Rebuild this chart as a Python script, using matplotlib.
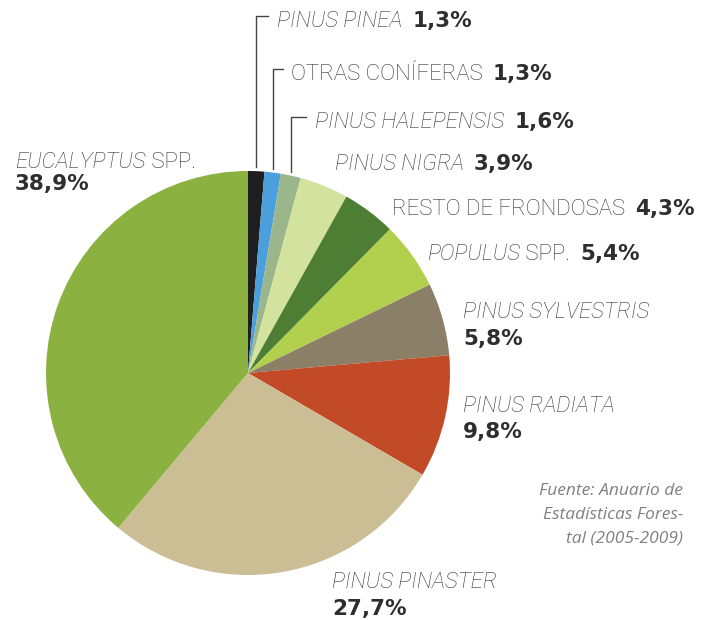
import matplotlib.pyplot as plt
import numpy as np

# data (percent of forest plantations by species)
names = ['PINUS PINEA', 'OTRAS CONÍFERAS', 'PINUS HALEPENSIS', 'PINUS NIGRA',
         'RESTO DE FRONDOSAS', 'POPULUS SPP.', 'PINUS SYLVESTRIS', 'PINUS RADIATA',
         'PINUS PINASTER', 'EUCALYPTUS SPP.']
values = [1.3, 1.3, 1.6, 3.9, 4.3, 5.4, 5.8, 9.8, 27.7, 38.9]
colors = ['#1f1f1f', '#4b9fdc', '#9bb68b', '#d3e29c', '#4e7e34', '#b2cf4d',
          '#8b7f68', '#c34a26', '#cbbd94', '#8bb240']
# label parts: (text, italic?)
label_parts = [
    [('PINUS PINEA', True)],
    [('OTRAS CONÍFERAS', False)],
    [('PINUS HALEPENSIS', True)],
    [('PINUS NIGRA', True)],
    [('RESTO DE FRONDOSAS', False)],
    [('POPULUS', True), (' SPP.', False)],
    [('PINUS SYLVESTRIS', True)],
    [('PINUS RADIATA', True)],
    [('PINUS PINASTER', True)],
    [('EUCALYPTUS', True), (' SPP.', False)],
]
source = 'Fuente: Anuario de\nEstadísticas Fores-\ntal (2005-2009)'

W, H = 717, 620
fig = plt.figure(figsize=(W / 100, H / 100), dpi=100)
ax = fig.add_axes([0, 0, 1, 1])

cx, cy, r = 248, H - 373, 202
ax.pie(values, colors=colors, startangle=90, counterclock=False,
       center=(cx, cy), radius=r, wedgeprops=dict(linewidth=0))
ax.set_xlim(0, W)
ax.set_ylim(0, H)
ax.set_aspect('equal')
ax.axis('off')

name_col = '#333333'
pct_col = '#2e2e2e'
fs = 16
pfs = 15.5

# label positions: left x, baseline y (pixels from top), baseline of percent row if below
pos = [(277, 27, None), (291, 80, None), (315, 128, None), (335, 170, None),
       (392, 215, None), (427, 260, None), (463, 318, 345), (463, 412, 438),
       (332, 588, 615), (15, 168, 190)]


def pct_text(v):
    return ('%.1f%%' % v).replace('.', ',')


rend = fig.canvas.get_renderer()
for parts, v, (x, y, y2) in zip(label_parts, values, pos):
    xx = x
    for txt, it in parts:
        t = ax.text(xx, H - y, txt, fontsize=fs, family='Roboto',
                    fontweight='light', style='italic' if it else 'normal',
                    color=name_col, va='baseline', ha='left')
        xx = t.get_window_extent(rend).x1
    if y2 is None:
        ax.text(xx + 10, H - y, pct_text(v), fontsize=pfs, family='DejaVu Sans',
                fontweight='bold', color=pct_col, va='baseline', ha='left')
    else:
        ax.text(x, H - y2, pct_text(v), fontsize=pfs, family='DejaVu Sans',
                fontweight='bold', color=pct_col, va='baseline', ha='left')

# leader lines for the three smallest slices
cum = np.cumsum([0] + values)
tick_ends = [268, 283, 306]
for i in range(3):
    mid = (cum[i] + cum[i + 1]) / 2 / 100 * 2 * np.pi
    lx = cx + r * np.sin(mid)
    ly = cy + r * np.cos(mid) + 4
    ty = H - pos[i][1] + 11
    ax.plot([lx, lx, tick_ends[i]], [ly, ty, ty], color='#444444', lw=1)

ax.text(683, H - 483, source, fontsize=12.5, family='Open Sans', style='italic',
        color='#808080', ha='right', va='top', linespacing=1.65)

fig.savefig('out.png', dpi=100)
